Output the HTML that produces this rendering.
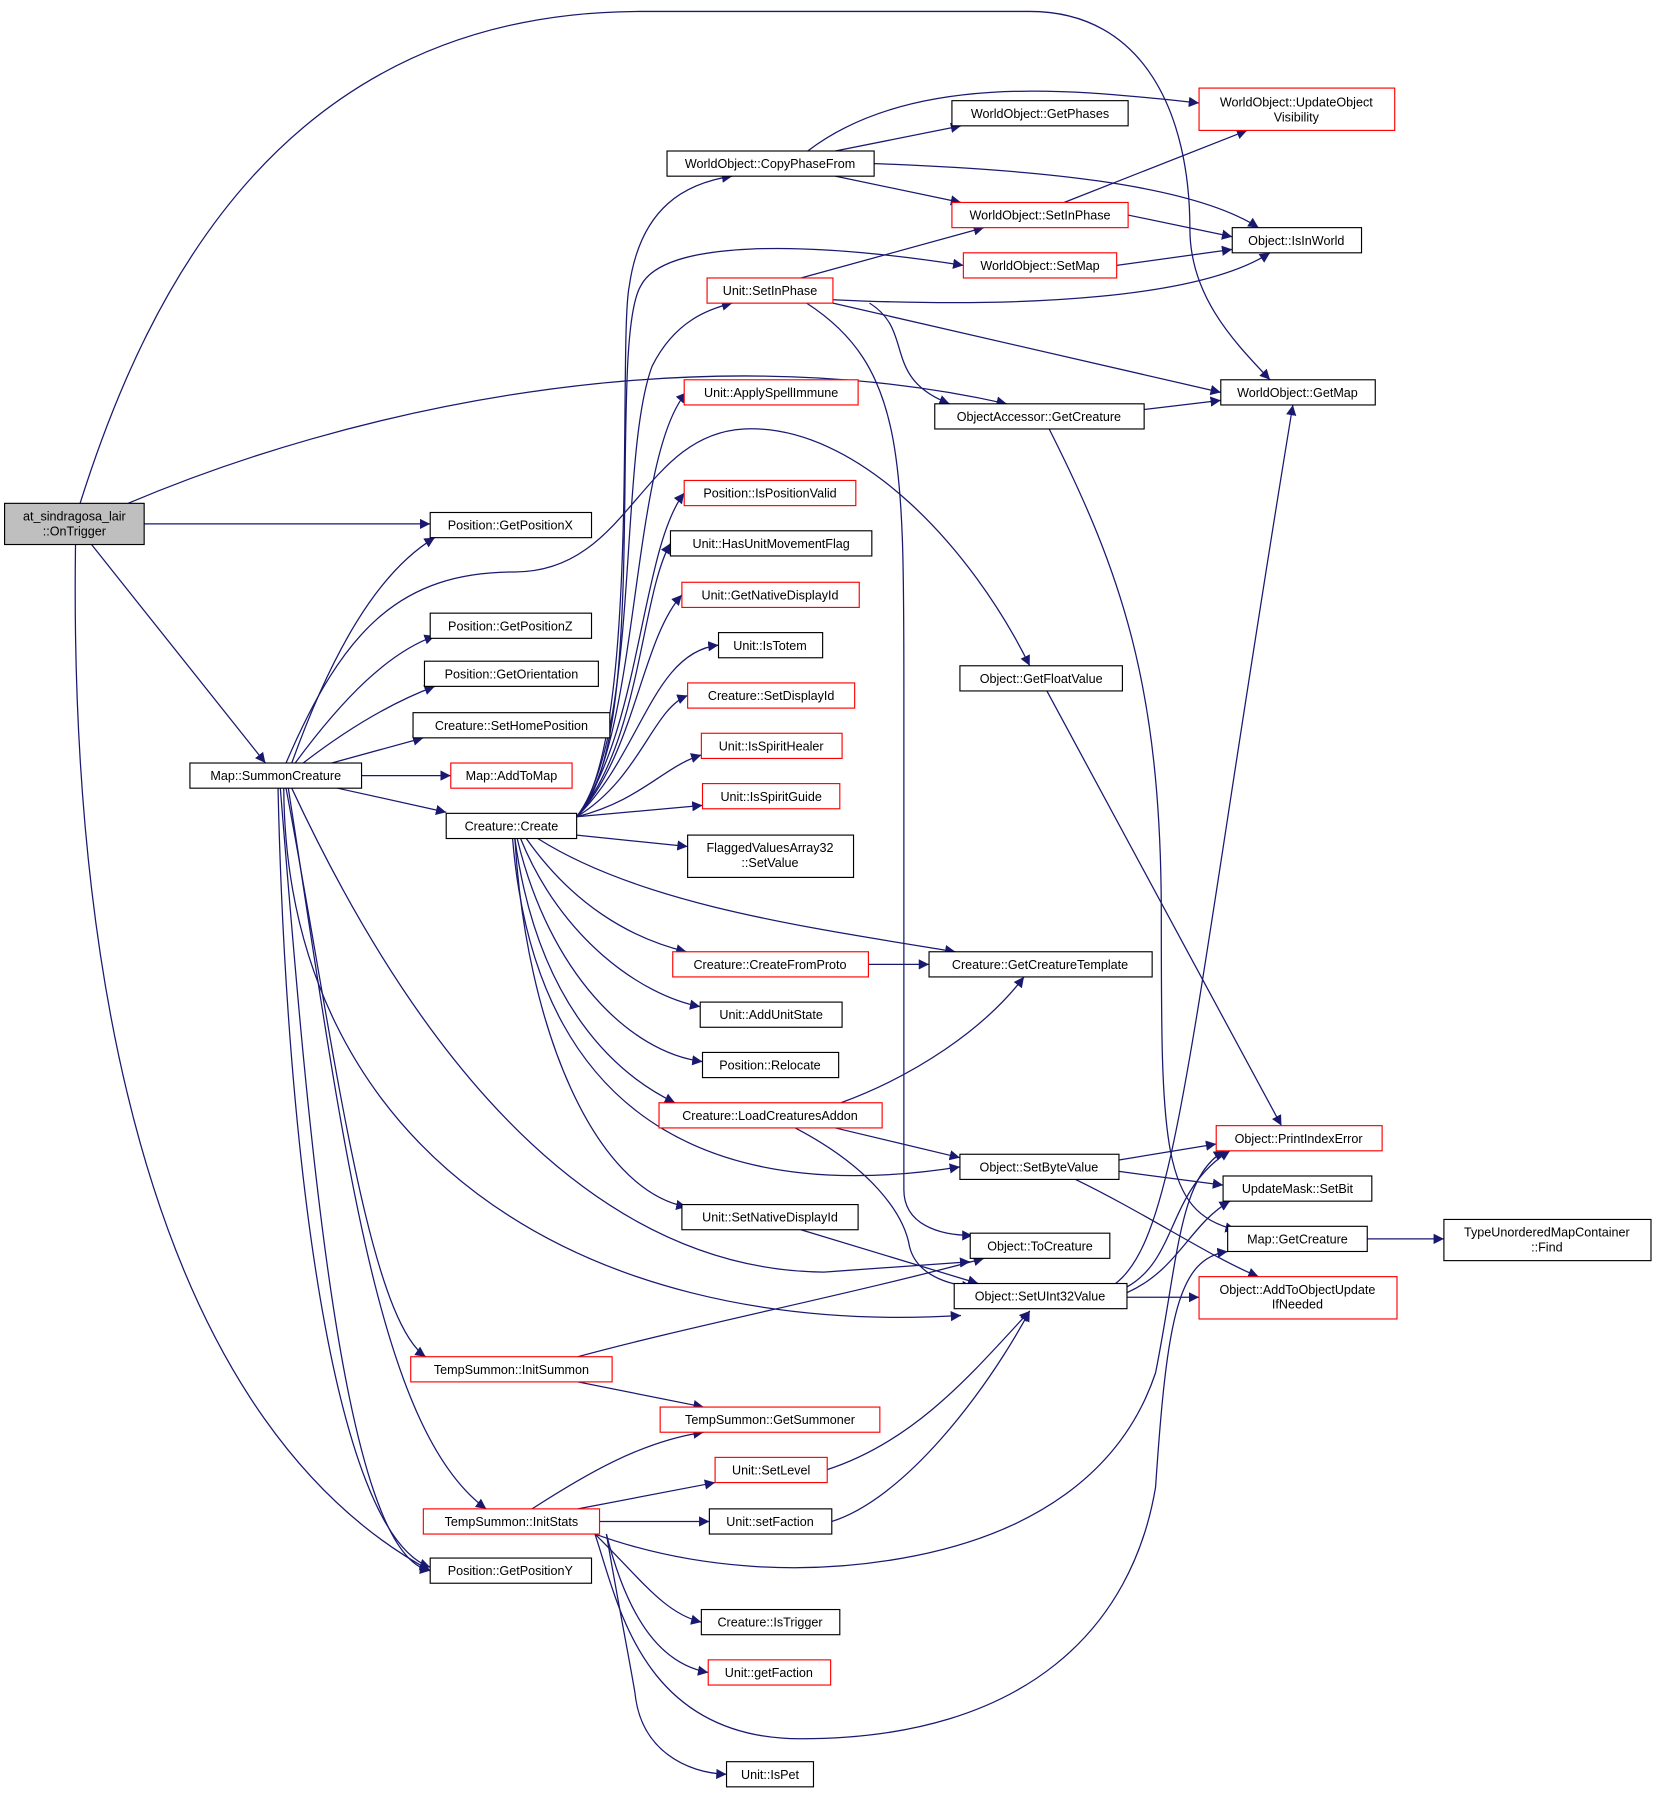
<!DOCTYPE html>
<html><head><meta charset="utf-8"><style>
html,body{margin:0;padding:0;background:#fff;}
svg{display:block;}
text{font-family:"Liberation Sans",sans-serif;font-size:11px;fill:#000;text-anchor:middle;}
.e{fill:none;stroke:#191970;stroke-width:1.1;marker-end:url(#a);}
.n{fill:#fff;stroke:#000;stroke-width:1;}
.r{fill:#fff;stroke:#ff0000;stroke-width:1;}
</style></head><body>
<svg width="1659" height="1796" viewBox="0 0 1450 1570" preserveAspectRatio="none" xmlns="http://www.w3.org/2000/svg">
<defs><marker id="a" viewBox="0 0 10 10" refX="10" refY="5" markerWidth="9" markerHeight="9" markerUnits="userSpaceOnUse" orient="auto"><path d="M0,0 L10,5 L0,10 z" fill="#191970"/></marker></defs>
<g>
<path class="e" d="M70,440 C130,250 250,10 560,10 L900,10 C1000,10 1040,100 1040,200 C1040,260 1080,300 1110,332"/>
<path class="e" d="M112,440 C300,360 600,290 880,353"/>
<path class="e" d="M126,458 L376,458"/>
<path class="e" d="M80,476 L232,667"/>
<path class="e" d="M66,476 C60,900 150,1250 376,1373"/>
<path class="e" d="M255,667 C290,570 330,500 380,470"/>
<path class="e" d="M250,667 C300,550 350,500 450,500 C550,500 560,380 650,375 C750,370 850,480 900,582"/>
<path class="e" d="M258,667 C300,610 340,570 380,556"/>
<path class="e" d="M265,667 C300,640 340,615 380,600"/>
<path class="e" d="M290,667 L370,645"/>
<path class="e" d="M316,678 L394,678"/>
<path class="e" d="M295,689 L390,710"/>
<path class="e" d="M255,689 C330,850 480,1110 720,1112 L848,1103"/>
<path class="e" d="M248,689 C250,1000 500,1170 840,1150"/>
<path class="e" d="M250,689 C290,900 320,1150 372,1186"/>
<path class="e" d="M252,689 C300,1000 330,1250 425,1319"/>
<path class="e" d="M245,689 C270,1000 300,1360 376,1373"/>
<path class="e" d="M243,689 C250,1000 290,1340 376,1370"/>
<path class="e" d="M504,714 C560,650 540,300 550,250 C560,180 600,160 640,154"/>
<path class="e" d="M504,714 C570,650 530,300 560,250 C580,210 700,210 842,232"/>
<path class="e" d="M504,714 C560,640 540,400 570,320 C590,280 620,270 640,265"/>
<path class="e" d="M504,714 C560,650 550,400 600,343"/>
<path class="e" d="M504,714 C560,640 560,480 598,431"/>
<path class="e" d="M504,714 C560,650 560,520 586,475"/>
<path class="e" d="M504,714 C555,660 560,560 596,520"/>
<path class="e" d="M504,714 C560,660 570,570 628,564"/>
<path class="e" d="M504,714 C560,680 570,620 601,608"/>
<path class="e" d="M504,714 C560,700 580,670 613,660"/>
<path class="e" d="M504,714 L614,704"/>
<path class="e" d="M504,730 L601,740"/>
<path class="e" d="M470,733 C560,790 700,810 835,832"/>
<path class="e" d="M460,733 C500,790 550,820 600,832"/>
<path class="e" d="M455,733 C490,820 560,870 612,880"/>
<path class="e" d="M452,733 C480,850 550,920 614,928"/>
<path class="e" d="M450,733 C470,880 540,940 590,964"/>
<path class="e" d="M448,733 C470,1000 650,1050 839,1020"/>
<path class="e" d="M450,733 C460,900 520,1040 600,1055"/>
<path class="e" d="M706,132 C800,60 950,80 1048,90"/>
<path class="e" d="M730,132 L840,110"/>
<path class="e" d="M730,154 L840,177"/>
<path class="e" d="M764,143 C900,148 1040,160 1100,199"/>
<path class="e" d="M930,177 L1090,114"/>
<path class="e" d="M986,188 L1077,207"/>
<path class="e" d="M976,232 L1077,218"/>
<path class="e" d="M700,243 L860,199"/>
<path class="e" d="M728,262 C900,270 1050,260 1110,221"/>
<path class="e" d="M728,265 L1067,343"/>
<path class="e" d="M760,265 C800,290 770,330 830,353"/>
<path class="e" d="M705,265 C790,320 790,400 790,600 L790,1040 C790,1070 820,1080 850,1080"/>
<path class="e" d="M1000,358 L1067,350"/>
<path class="e" d="M917,375 C980,500 1015,600 1015,800 C1015,1000 1015,1060 1080,1075"/>
<path class="e" d="M915,604 L1120,984"/>
<path class="e" d="M759,843 L812,843"/>
<path class="e" d="M735,964 C800,940 860,900 895,854"/>
<path class="e" d="M730,986 L839,1012"/>
<path class="e" d="M695,986 C760,1020 790,1060 795,1090 C800,1110 820,1122 850,1125"/>
<path class="e" d="M978,1014 L1063,1000"/>
<path class="e" d="M978,1024 L1069,1036"/>
<path class="e" d="M940,1031 C1000,1060 1060,1100 1100,1116"/>
<path class="e" d="M700,1075 L855,1122"/>
<path class="e" d="M985,1125 C1030,1100 1020,1040 1075,1006"/>
<path class="e" d="M985,1130 C1030,1110 1040,1070 1075,1050"/>
<path class="e" d="M985,1134 L1048,1134"/>
<path class="e" d="M975,1122 C1030,1080 1040,900 1130,354"/>
<path class="e" d="M1195,1083 L1262,1083"/>
<path class="e" d="M505,1186 C600,1160 750,1130 860,1100"/>
<path class="e" d="M505,1208 L615,1230"/>
<path class="e" d="M465,1319 C510,1290 560,1260 615,1252"/>
<path class="e" d="M722,1285 C800,1260 850,1200 900,1146"/>
<path class="e" d="M727,1330 C790,1310 860,1220 900,1146"/>
<path class="e" d="M505,1319 L625,1296"/>
<path class="e" d="M524,1330 L620,1330"/>
<path class="e" d="M520,1341 C560,1380 580,1410 613,1418"/>
<path class="e" d="M530,1341 C550,1420 580,1455 619,1462"/>
<path class="e" d="M530,1341 C540,1400 550,1450 555,1480 C560,1530 600,1550 635,1551"/>
<path class="e" d="M520,1341 C540,1400 560,1520 700,1520 C900,1520 990,1420 1010,1300 C1020,1150 1030,1100 1073,1094"/>
<path class="e" d="M520,1341 C600,1370 700,1380 800,1360 C900,1340 980,1290 1010,1200 C1030,1100 1030,1030 1070,1006"/>
</g>
<g>
<rect x="4" y="440" width="122" height="36" fill="#bfbfbf" stroke="#000"/><text x="65" y="455">at_sindragosa_lair</text><text x="65" y="468">::OnTrigger</text>
<rect class="n" x="376" y="448" width="141" height="22"/><text x="446" y="463">Position::GetPositionX</text>
<rect class="n" x="166" y="667" width="150" height="22"/><text x="241" y="682">Map::SummonCreature</text>
<rect class="n" x="376" y="536" width="141" height="22"/><text x="446" y="551">Position::GetPositionZ</text>
<rect class="n" x="371" y="578" width="152" height="22"/><text x="447" y="593">Position::GetOrientation</text>
<rect class="n" x="361" y="623" width="172" height="22"/><text x="447" y="638">Creature::SetHomePosition</text>
<rect class="r" x="394" y="667" width="106" height="22"/><text x="447" y="682">Map::AddToMap</text>
<rect class="n" x="390" y="711" width="114" height="22"/><text x="447" y="726">Creature::Create</text>
<rect class="n" x="376" y="1362" width="141" height="22"/><text x="446" y="1377">Position::GetPositionY</text>
<rect class="r" x="359" y="1186" width="176" height="22"/><text x="447" y="1201">TempSummon::InitSummon</text>
<rect class="r" x="370" y="1319" width="154" height="22"/><text x="447" y="1334">TempSummon::InitStats</text>
<rect class="n" x="583" y="132" width="181" height="22"/><text x="673" y="147">WorldObject::CopyPhaseFrom</text>
<rect class="n" x="832" y="88" width="154" height="22"/><text x="909" y="103">WorldObject::GetPhases</text>
<rect class="r" x="1048" y="77" width="171" height="37"/><text x="1133" y="93">WorldObject::UpdateObject</text><text x="1133" y="106">Visibility</text>
<rect class="r" x="832" y="177" width="154" height="22"/><text x="909" y="192">WorldObject::SetInPhase</text>
<rect class="r" x="842" y="221" width="134" height="22"/><text x="909" y="236">WorldObject::SetMap</text>
<rect class="n" x="1077" y="199" width="113" height="22"/><text x="1133" y="214">Object::IsInWorld</text>
<rect class="r" x="618" y="243" width="110" height="22"/><text x="673" y="258">Unit::SetInPhase</text>
<rect class="r" x="598" y="332" width="152" height="22"/><text x="674" y="347">Unit::ApplySpellImmune</text>
<rect class="n" x="1067" y="332" width="135" height="22"/><text x="1134" y="347">WorldObject::GetMap</text>
<rect class="n" x="817" y="353" width="183" height="22"/><text x="908" y="368">ObjectAccessor::GetCreature</text>
<rect class="r" x="598" y="420" width="150" height="22"/><text x="673" y="435">Position::IsPositionValid</text>
<rect class="n" x="586" y="464" width="176" height="22"/><text x="674" y="479">Unit::HasUnitMovementFlag</text>
<rect class="r" x="596" y="509" width="155" height="22"/><text x="673" y="524">Unit::GetNativeDisplayId</text>
<rect class="n" x="628" y="553" width="91" height="22"/><text x="673" y="568">Unit::IsTotem</text>
<rect class="r" x="601" y="597" width="146" height="22"/><text x="674" y="612">Creature::SetDisplayId</text>
<rect class="n" x="839" y="582" width="142" height="22"/><text x="910" y="597">Object::GetFloatValue</text>
<rect class="r" x="613" y="641" width="123" height="22"/><text x="674" y="656">Unit::IsSpiritHealer</text>
<rect class="r" x="614" y="685" width="120" height="22"/><text x="674" y="700">Unit::IsSpiritGuide</text>
<rect class="n" x="601" y="730" width="145" height="37"/><text x="673" y="745">FlaggedValuesArray32</text><text x="673" y="758">::SetValue</text>
<rect class="r" x="588" y="832" width="171" height="22"/><text x="673" y="847">Creature::CreateFromProto</text>
<rect class="n" x="812" y="832" width="195" height="22"/><text x="909" y="847">Creature::GetCreatureTemplate</text>
<rect class="n" x="612" y="876" width="124" height="22"/><text x="674" y="891">Unit::AddUnitState</text>
<rect class="n" x="614" y="920" width="119" height="22"/><text x="673" y="935">Position::Relocate</text>
<rect class="r" x="576" y="964" width="195" height="22"/><text x="673" y="979">Creature::LoadCreaturesAddon</text>
<rect class="n" x="839" y="1009" width="139" height="22"/><text x="908" y="1024">Object::SetByteValue</text>
<rect class="r" x="1063" y="984" width="145" height="22"/><text x="1135" y="999">Object::PrintIndexError</text>
<rect class="n" x="1069" y="1028" width="130" height="22"/><text x="1134" y="1043">UpdateMask::SetBit</text>
<rect class="n" x="1073" y="1072" width="122" height="22"/><text x="1134" y="1087">Map::GetCreature</text>
<rect class="n" x="1262" y="1066" width="181" height="36"/><text x="1352" y="1081">TypeUnorderedMapContainer</text><text x="1352" y="1094">::Find</text>
<rect class="n" x="596" y="1053" width="154" height="22"/><text x="673" y="1068">Unit::SetNativeDisplayId</text>
<rect class="n" x="848" y="1078" width="122" height="22"/><text x="909" y="1093">Object::ToCreature</text>
<rect class="n" x="834" y="1122" width="151" height="22"/><text x="909" y="1137">Object::SetUInt32Value</text>
<rect class="r" x="1048" y="1116" width="173" height="37"/><text x="1134" y="1131">Object::AddToObjectUpdate</text><text x="1134" y="1144">IfNeeded</text>
<rect class="r" x="577" y="1230" width="192" height="22"/><text x="673" y="1245">TempSummon::GetSummoner</text>
<rect class="r" x="625" y="1274" width="98" height="22"/><text x="674" y="1289">Unit::SetLevel</text>
<rect class="n" x="620" y="1319" width="107" height="22"/><text x="673" y="1334">Unit::setFaction</text>
<rect class="n" x="613" y="1407" width="121" height="22"/><text x="673" y="1422">Creature::IsTrigger</text>
<rect class="r" x="619" y="1451" width="107" height="22"/><text x="672" y="1466">Unit::getFaction</text>
<rect class="n" x="635" y="1540" width="76" height="22"/><text x="673" y="1555">Unit::IsPet</text>
</g>
</svg>
</body></html>
